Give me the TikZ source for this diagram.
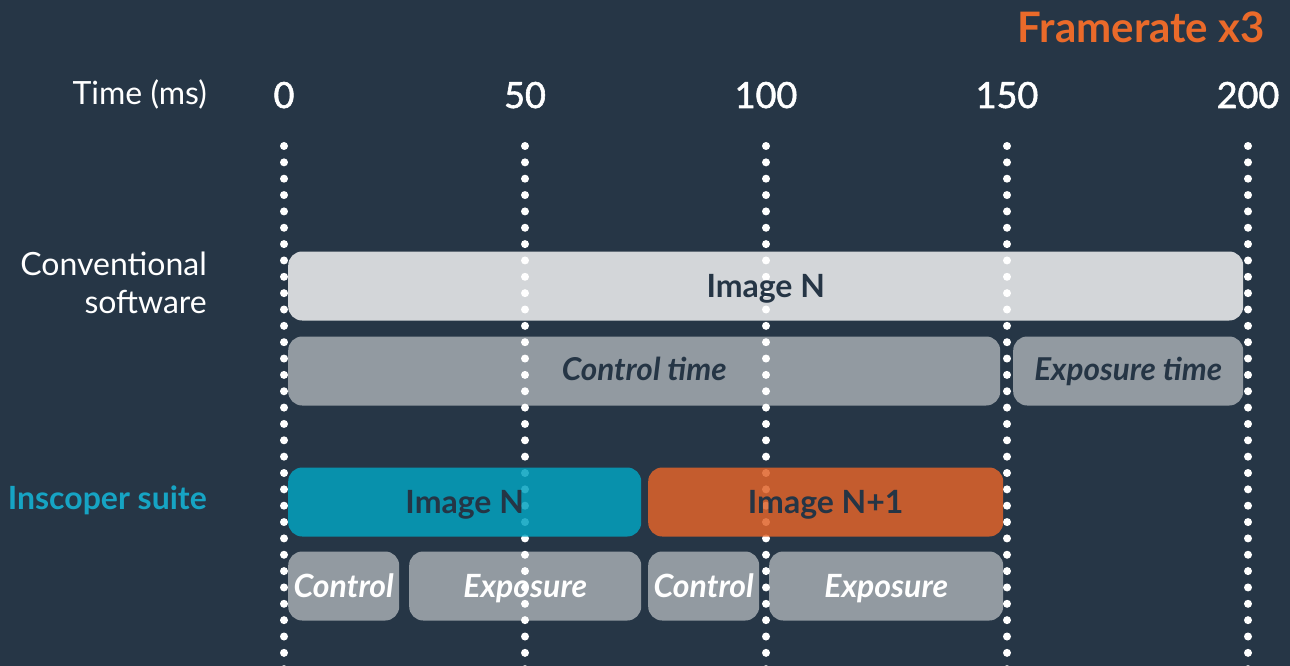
\documentclass[tikz,border=0pt]{standalone}
\usepackage{fontspec}
\setmainfont{Lato}
\newfontfamily\tickfont[FakeBold=1.6]{Lato}
\definecolor{bg}{HTML}{263646}
\definecolor{dark}{HTML}{253545}
\definecolor{lightbar}{HTML}{D3D6D9}
\definecolor{graybar}{HTML}{929AA1}
\definecolor{tealbar}{RGB}{3,161,191}
\definecolor{tealtxt}{HTML}{16A4C4}
\definecolor{orangebar}{RGB}{224,99,42}
\definecolor{orangetxt}{HTML}{EA6A2A}
\tikzset{
  bar/.style={rounded corners=14pt, inner sep=0pt, minimum height=69pt, anchor=west},
  barlabel/.style={font=\fontsize{32}{38}\selectfont\bfseries, text=dark, anchor=base, inner sep=0pt},
  darkital/.style={font=\fontsize{31.5}{38}\selectfont\bfseries\itshape, text=dark, anchor=base, inner sep=0pt},
  whiteital/.style={font=\fontsize{32}{38}\selectfont\bfseries\itshape, text=white, anchor=base, inner sep=0pt},
  tick/.style={font=\tickfont\fontsize{36}{42}\selectfont, text=white, anchor=base, inner sep=0pt},
  rowlabel/.style={font=\fontsize{32}{38}\selectfont, text=white, align=right, anchor=east, inner sep=0pt},
}
\begin{document}
\begin{tikzpicture}[x=1pt,y=-1pt]
\fill[bg] (0,0) rectangle (1290,666);
\useasboundingbox (0,0) rectangle (1290,666);
% title
\node[font=\fontsize{42}{48}\selectfont\bfseries, text=orangetxt, anchor=base east, inner sep=0pt] (title) at (1265,43) {Framerate x3};
% axis
\node[rowlabel, anchor=base east] (timelbl) at (207,105) {Time (ms)};
\node[tick] (t0) at (284,108) {0};
\node[tick] (t50) at (525,108) {50};
\node[tick] (t100) at (766,108) {100};
\node[tick] (t150) at (1007,108) {150};
\node[tick] (t200) at (1248,108) {200};
% row labels
\node[rowlabel] (conv) at (207,283) {Conventional\\software};
\node[font=\fontsize{32}{38}\selectfont\bfseries, text=tealtxt, anchor=east, inner sep=0pt] (insc) at (207,500) {Inscoper suite};
% conventional bars
\node[bar, fill=lightbar, minimum width=955pt] (imgA) at (288,286) {};
\node[bar, fill=graybar, minimum width=712pt] (ctrlA) at (288,371) {};
\node[bar, fill=graybar, minimum width=230pt] (expA) at (1013,371) {};
% inscoper small bars
\node[bar, fill=graybar, minimum width=111pt] (ctrlB) at (288,586) {};
\node[bar, fill=graybar, minimum width=232pt] (expB) at (409,586) {};
\node[bar, fill=graybar, minimum width=111pt] (ctrlC) at (648,586) {};
\node[bar, fill=graybar, minimum width=234pt] (expC) at (769,586) {};
% dotted time lines
\foreach \x in {284,525,766,1007,1248}{
  \foreach \k in {0,...,32}{
    \fill[white] (\x,146+\k*16.35) circle (4pt);
  }
}
% coloured bars on top (semi-transparent)
\node[bar, fill=tealbar, fill opacity=0.85, minimum width=353pt] (imgB) at (288,502) {};
\node[bar, fill=orangebar, fill opacity=0.85, minimum width=355pt] (imgC) at (648,502) {};
% labels
\node[barlabel] at ([yshift=-11pt]imgA.center) {Image N};
\node[darkital] at ([yshift=-9.5pt]ctrlA.center) {Control time};
\node[darkital] at ([yshift=-9.5pt]expA.center) {Exposure time};
\node[barlabel] at ([yshift=-11pt]imgB.center) {Image N};
\node[barlabel] at ([yshift=-11pt]imgC.center) {Image N+1};
\node[whiteital] at ([yshift=-11.5pt]ctrlB.center) {Control};
\node[whiteital] at ([yshift=-11.5pt]expB.center) {Exposure};
\node[whiteital] at ([yshift=-11.5pt]ctrlC.center) {Control};
\node[whiteital] at ([yshift=-11.5pt]expC.center) {Exposure};
\end{tikzpicture}
\end{document}
